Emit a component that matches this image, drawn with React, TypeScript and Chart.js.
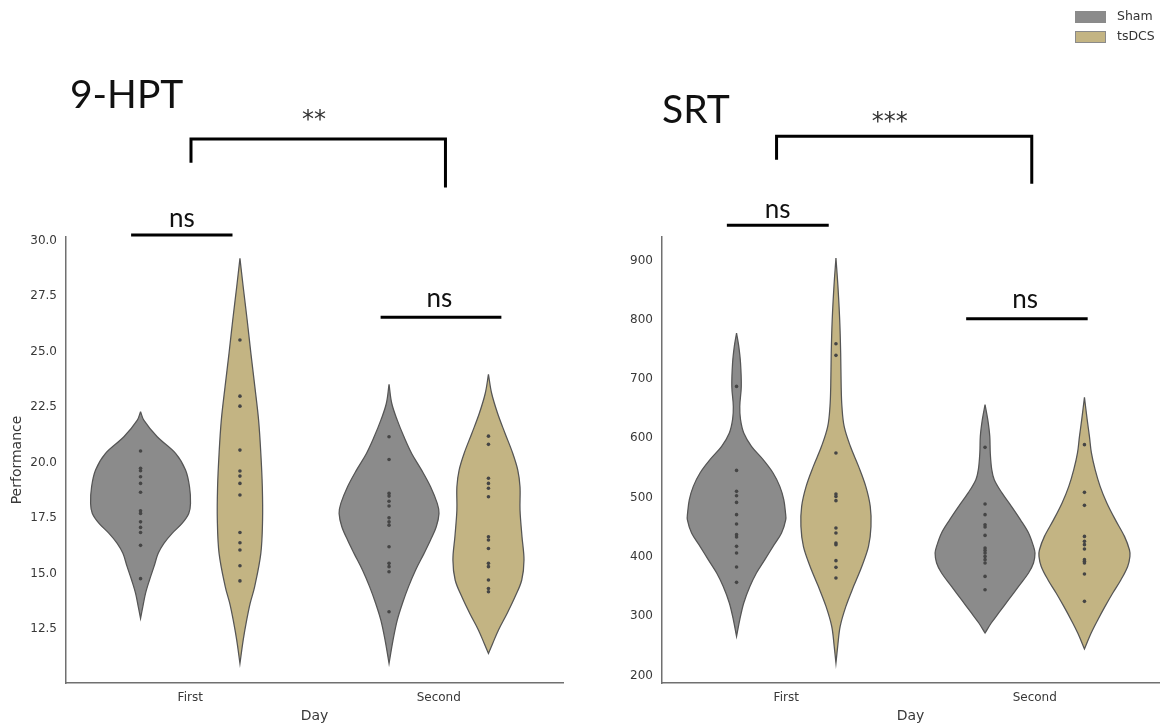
import React, { useEffect, useRef } from "react";
import { Chart, registerables } from "chart.js";

Chart.register(...registerables);

// ---------- categories / groups ----------
const CATEGORIES = ["First", "Second"];
const GROUPS = ["Sham", "tsDCS"];
const HUE_OFFSET = [-0.2, 0.2];

// ---------- tick labels ----------
const HPT_TICKS = [12.5, 15, 17.5, 20, 22.5, 25, 27.5, 30];
const SRT_TICKS = [200, 300, 400, 500, 600, 700, 800, 900];

// ---------- 9-HPT observations ----------
const hptShamFirst = [20.53, 19.75, 19.64, 19.37, 19.07, 18.67, 17.84, 17.72, 17.34, 17.09, 16.86, 16.28, 14.78];
const hptTsdcsFirst = [25.53, 23.0, 22.55, 20.57, 19.63, 19.4, 19.07, 18.55, 16.86, 16.4, 16.07, 15.36, 14.68];
const hptShamSecond = [21.17, 20.15, 18.62, 18.5, 18.27, 18.05, 17.52, 17.34, 17.19, 16.22, 15.47, 15.32, 15.09, 13.29];
const hptTsdcsSecond = [21.2, 20.83, 19.3, 19.07, 18.85, 18.47, 16.67, 16.52, 16.14, 15.47, 15.32, 14.72, 14.34, 14.19];

// ---------- 9-HPT violin outlines (level, half-width density) ----------
const hptShamFirstLevels = [22.3, 21.92, 21.17, 20.42, 19.67, 18.92, 18.17, 17.72, 17.27, 16.82, 16.37, 15.92, 15.32, 14.72, 14.12, 13.51, 12.99];
const hptShamFirstDensity = [0, 0.013, 0.067, 0.141, 0.181, 0.197, 0.201, 0.194, 0.167, 0.127, 0.094, 0.071, 0.054, 0.036, 0.02, 0.009, 0];
const hptTsdcsFirstLevels = [29.21, 27.93, 26.43, 24.93, 23.42, 21.92, 20.42, 18.92, 17.42, 15.92, 14.41, 13.67, 12.91, 12.01, 10.96];
const hptTsdcsFirstDensity = [0, 0.013, 0.029, 0.044, 0.06, 0.075, 0.084, 0.09, 0.091, 0.084, 0.059, 0.041, 0.027, 0.013, 0];
const hptShamSecondLevels = [23.53, 22.67, 21.92, 21.17, 20.42, 19.67, 18.92, 18.17, 17.72, 17.12, 16.52, 15.92, 15.17, 14.41, 13.67, 12.91, 12.01, 10.96];
const hptShamSecondDensity = [0, 0.011, 0.033, 0.06, 0.091, 0.131, 0.167, 0.194, 0.201, 0.19, 0.167, 0.141, 0.107, 0.078, 0.054, 0.033, 0.016, 0];
const hptTsdcsSecondLevels = [23.98, 23.12, 22.22, 21.32, 20.42, 19.67, 18.92, 17.87, 16.67, 15.62, 14.72, 13.96, 13.21, 12.46, 11.86, 11.41];
const hptTsdcsSecondDensity = [0, 0.013, 0.037, 0.067, 0.098, 0.118, 0.127, 0.127, 0.135, 0.143, 0.134, 0.107, 0.075, 0.04, 0.017, 0];

// ---------- SRT observations ----------
const srtShamFirst = [687.6, 546.0, 510.7, 503.4, 492.1, 471.4, 455.7, 437.7, 433.8, 418.0, 406.8, 383.2, 357.3];
const srtTsdcsFirst = [759.6, 739.9, 575.4, 506.3, 502.2, 495.0, 449.0, 440.5, 423.7, 420.9, 393.9, 382.6, 364.7];
const srtShamSecond = [584.9, 489.4, 471.4, 454.5, 450.6, 436.5, 415.2, 411.2, 406.8, 401.1, 395.6, 389.9, 367.4, 344.9];
const srtTsdcsSecond = [589.4, 509.0, 487.1, 434.8, 426.4, 420.9, 413.6, 395.6, 392.8, 389.9, 371.4, 325.3];

// ---------- SRT violin outlines ----------
const srtShamFirstLevels = [777.6, 755.1, 727.0, 687.6, 653.9, 631.5, 609.1, 586.6, 564.1, 541.7, 519.1, 496.7, 474.2, 463.0, 440.5, 418.0, 395.6, 373.1, 350.6, 322.6, 294.4, 266.3];
const srtShamFirstDensity = [0, 0.009, 0.016, 0.019, 0.013, 0.016, 0.029, 0.06, 0.107, 0.147, 0.174, 0.19, 0.197, 0.198, 0.181, 0.147, 0.114, 0.08, 0.054, 0.029, 0.013, 0];
const srtTsdcsFirstLevels = [904.0, 856.2, 800.1, 743.9, 687.6, 653.9, 620.2, 586.6, 552.8, 519.1, 485.4, 451.7, 418.0, 384.2, 350.6, 316.8, 283.1, 249.4, 221.4];
const srtTsdcsFirstDensity = [0, 0.008, 0.015, 0.019, 0.021, 0.024, 0.033, 0.058, 0.091, 0.12, 0.138, 0.141, 0.131, 0.104, 0.071, 0.04, 0.017, 0.007, 0];
const srtShamSecondLevels = [656.8, 631.5, 603.4, 575.4, 547.2, 530.4, 508.0, 485.4, 463.0, 440.5, 418.0, 406.8, 389.9, 373.1, 350.6, 328.1, 305.7, 288.8, 271.9];
const srtShamSecondDensity = [0, 0.011, 0.019, 0.021, 0.027, 0.037, 0.068, 0.106, 0.142, 0.175, 0.195, 0.201, 0.195, 0.175, 0.135, 0.095, 0.055, 0.025, 0];
const srtTsdcsSecondLevels = [669.1, 631.5, 603.4, 575.4, 547.2, 519.1, 491.1, 463.0, 434.8, 412.3, 401.1, 384.2, 361.8, 339.4, 316.8, 294.4, 271.9, 245.0];
const srtTsdcsSecondDensity = [0, 0.011, 0.02, 0.028, 0.043, 0.063, 0.09, 0.124, 0.161, 0.181, 0.183, 0.174, 0.147, 0.114, 0.083, 0.054, 0.027, 0];

// ---------- styles ----------
const FILLS = ["#8b8b8b", "#c3b483"];
const OUTLINE = "#555555";
const DOT = "#454545";
const AXIS = "#707070";
const TEXT = "#383838";
const TICK_FONT = { family: "'DejaVu Sans', sans-serif", size: 12 };
const LABEL_FONT = { family: "'DejaVu Sans', sans-serif", size: 14 };
const ANNOT_FAMILY = "Lato, 'Open Sans', sans-serif";
const STAR_FAMILY = "'DejaVu Sans', sans-serif";

type Violin = { cat: number; group: number; levels: number[]; density: number[]; points: number[] };
type Bar = { x0: number; x1: number; y: number; textX: number; textY: number; text: string };
type Bracket = { x0: number; x1: number; yTop: number; yLeft: number; yRight: number; textX: number; textY: number; text: string };

type PanelSpec = {
  title: string;
  titleX: number;
  titleY: number;
  width: number;
  left: number;
  yMin: number;
  yMax: number;
  ticks: number[];
  tickFmt: (v: number) => string;
  yTitle: string | null;
  yAxisWidth: number;
  padRight: number;
  violins: Violin[];
  bars: Bar[];
  bracket: Bracket;
  legend: boolean;
};

const HPT: PanelSpec = {
  title: "9-HPT",
  titleX: 70,
  titleY: 108,
  width: 600,
  left: 0,
  yMin: 10.08,
  yMax: 30.17,
  ticks: HPT_TICKS,
  tickFmt: (v) => v.toFixed(1),
  yTitle: "Performance",
  yAxisWidth: 66,
  padRight: 37,
  violins: [
    { cat: 0, group: 0, levels: hptShamFirstLevels, density: hptShamFirstDensity, points: hptShamFirst },
    { cat: 0, group: 1, levels: hptTsdcsFirstLevels, density: hptTsdcsFirstDensity, points: hptTsdcsFirst },
    { cat: 1, group: 0, levels: hptShamSecondLevels, density: hptShamSecondDensity, points: hptShamSecond },
    { cat: 1, group: 1, levels: hptTsdcsSecondLevels, density: hptTsdcsSecondDensity, points: hptTsdcsSecond },
  ],
  bars: [
    { x0: -0.238, x1: 0.17, y: 30.257, textX: -0.034, textY: 30.604, text: "ns" },
    { x0: 0.766, x1: 1.252, y: 26.55, textX: 1.003, textY: 27.027, text: "ns" },
  ],
  bracket: { x0: 0.003, x1: 1.027, yTop: 34.581, yLeft: 33.514, yRight: 32.405, textX: 0.498, textY: 35.12, text: "**" },
  legend: false,
};

const SRT: PanelSpec = {
  title: "SRT",
  titleX: 62,
  titleY: 123,
  width: 567,
  left: 600,
  yMin: 187.7,
  yMax: 939.4,
  ticks: SRT_TICKS,
  tickFmt: (v) => String(v),
  yTitle: null,
  yAxisWidth: 62,
  padRight: 8,
  violins: [
    { cat: 0, group: 0, levels: srtShamFirstLevels, density: srtShamFirstDensity, points: srtShamFirst },
    { cat: 0, group: 1, levels: srtTsdcsFirstLevels, density: srtTsdcsFirstDensity, points: srtTsdcsFirst },
    { cat: 1, group: 0, levels: srtShamSecondLevels, density: srtShamSecondDensity, points: srtShamSecond },
    { cat: 1, group: 1, levels: srtTsdcsSecondLevels, density: srtTsdcsSecondDensity, points: srtTsdcsSecond },
  ],
  bars: [
    { x0: -0.239, x1: 0.171, y: 959.0, textX: -0.035, textY: 971.5, text: "ns" },
    { x0: 0.724, x1: 1.213, y: 801.7, textX: 0.961, textY: 819.8, text: "ns" },
  ],
  bracket: { x0: -0.039, x1: 0.988, yTop: 1109.0, yLeft: 1069.7, yRight: 1029.3, textX: 0.416, textY: 1122.0, text: "***" },
  legend: true,
};

function outline(center: number, levels: number[], density: number[]) {
  const right = levels.map((y, i) => ({ x: center + density[i], y }));
  const left = levels.map((y, i) => ({ x: center - density[i], y })).reverse();
  return [...right, ...left];
}

function buildConfig(spec: PanelSpec): any {
  const datasets: any[] = [];
  spec.violins.forEach((v) => {
    const center = v.cat + HUE_OFFSET[v.group];
    datasets.push({
      label: GROUPS[v.group],
      data: outline(center, v.levels, v.density),
      showLine: true,
      tension: 0.35,
      fill: "shape",
      backgroundColor: FILLS[v.group],
      borderColor: OUTLINE,
      borderWidth: 1.25,
      pointRadius: 0,
      order: 2,
    });
    datasets.push({
      label: GROUPS[v.group] + " points",
      data: v.points.map((p) => ({ x: center, y: p })),
      showLine: false,
      pointRadius: 1.8,
      pointBackgroundColor: DOT,
      pointBorderWidth: 0,
      order: 0,
    });
  });

  const annotations = {
    id: "annotations",
    afterDraw(chart: any) {
      const { ctx } = chart;
      const xs = chart.scales.x;
      const ys = chart.scales.y;
      const px = (v: number) => xs.getPixelForValue(v);
      const py = (v: number) => ys.getPixelForValue(v);
      ctx.save();
      // panel title
      ctx.fillStyle = "#111";
      ctx.font = `39px ${ANNOT_FAMILY}`;
      ctx.textAlign = "left";
      ctx.textBaseline = "alphabetic";
      ctx.fillText(spec.title, spec.titleX, spec.titleY);
      // ns bars
      ctx.strokeStyle = "#000";
      ctx.lineWidth = 3;
      ctx.lineCap = "butt";
      ctx.lineJoin = "miter";
      ctx.font = `26px ${ANNOT_FAMILY}`;
      ctx.textAlign = "center";
      spec.bars.forEach((b) => {
        ctx.beginPath();
        ctx.moveTo(px(b.x0), py(b.y));
        ctx.lineTo(px(b.x1), py(b.y));
        ctx.stroke();
        ctx.fillStyle = "#111";
        ctx.fillText(b.text, px(b.textX), py(b.textY));
      });
      // bracket
      const br = spec.bracket;
      ctx.beginPath();
      ctx.moveTo(px(br.x0), py(br.yLeft));
      ctx.lineTo(px(br.x0), py(br.yTop));
      ctx.lineTo(px(br.x1), py(br.yTop));
      ctx.lineTo(px(br.x1), py(br.yRight));
      ctx.stroke();
      ctx.fillStyle = "#333";
      ctx.font = `24px ${STAR_FAMILY}`;
      ctx.fillText(br.text, px(br.textX), py(br.textY));
      // legend
      if (spec.legend) {
        GROUPS.forEach((g, i) => {
          const top = 11 + i * 20;
          ctx.fillStyle = FILLS[i];
          ctx.fillRect(475, top, 31, 12);
          ctx.strokeStyle = "#8a8a8a";
          ctx.lineWidth = 1;
          ctx.strokeRect(475.5, top + 0.5, 30, 11);
          ctx.fillStyle = "#333";
          ctx.font = `12.5px 'DejaVu Sans', sans-serif`;
          ctx.textAlign = "left";
          ctx.textBaseline = "middle";
          ctx.fillText(g, 517, top + 6);
        });
      }
      ctx.restore();
    },
  };

  return {
    type: "scatter",
    data: { datasets },
    plugins: [annotations],
    options: {
      animation: false,
      responsive: false,
      devicePixelRatio: 1,
      events: [],
      layout: { padding: { top: 237, right: spec.padRight, left: 0, bottom: 0 } },
      plugins: { legend: { display: false }, tooltip: { enabled: false } },
      scales: {
        x: {
          type: "linear",
          min: -0.5,
          max: 1.5,
          afterBuildTicks: (s: any) => {
            s.ticks = CATEGORIES.map((_, i) => ({ value: i }));
          },
          afterFit: (s: any) => {
            s.height = 44;
          },
          ticks: {
            callback: (v: any) => CATEGORIES[Math.round(Number(v))] ?? "",
            font: TICK_FONT,
            color: TEXT,
            padding: 8,
            maxRotation: 0,
            autoSkip: false,
          },
          grid: { display: false, drawTicks: false },
          border: { display: true, color: AXIS, width: 1.5 },
          title: { display: true, text: "Day", font: LABEL_FONT, color: TEXT, padding: { top: 0, bottom: 2 } },
        },
        y: {
          type: "linear",
          min: spec.yMin,
          max: spec.yMax,
          afterBuildTicks: (s: any) => {
            s.ticks = spec.ticks.map((v) => ({ value: v }));
          },
          afterFit: (s: any) => {
            s.width = spec.yAxisWidth;
          },
          ticks: {
            callback: (v: any) => spec.tickFmt(Number(v)),
            font: TICK_FONT,
            color: TEXT,
            padding: 9,
            autoSkip: false,
          },
          grid: { display: false, drawTicks: false },
          border: { display: true, color: AXIS, width: 1.5 },
          title: {
            display: !!spec.yTitle,
            text: spec.yTitle ?? "",
            font: LABEL_FONT,
            color: TEXT,
            padding: { top: 9, bottom: 0 },
          },
        },
      },
    },
  };
}

function Panel({ spec }: { spec: PanelSpec }) {
  const ref = useRef<HTMLCanvasElement | null>(null);
  useEffect(() => {
    if (!ref.current) return;
    const chart = new Chart(ref.current, buildConfig(spec));
    return () => chart.destroy();
  }, [spec]);
  return (
    <canvas
      ref={ref}
      width={spec.width}
      height={727}
      style={{ position: "absolute", left: spec.left, top: 0, width: spec.width, height: 727 }}
    />
  );
}

export default function App() {
  return (
    <div style={{ position: "absolute", left: 0, top: 0, width: 1167, height: 727, background: "#fff", overflow: "hidden" }}>
      <Panel spec={HPT} />
      <Panel spec={SRT} />
    </div>
  );
}
